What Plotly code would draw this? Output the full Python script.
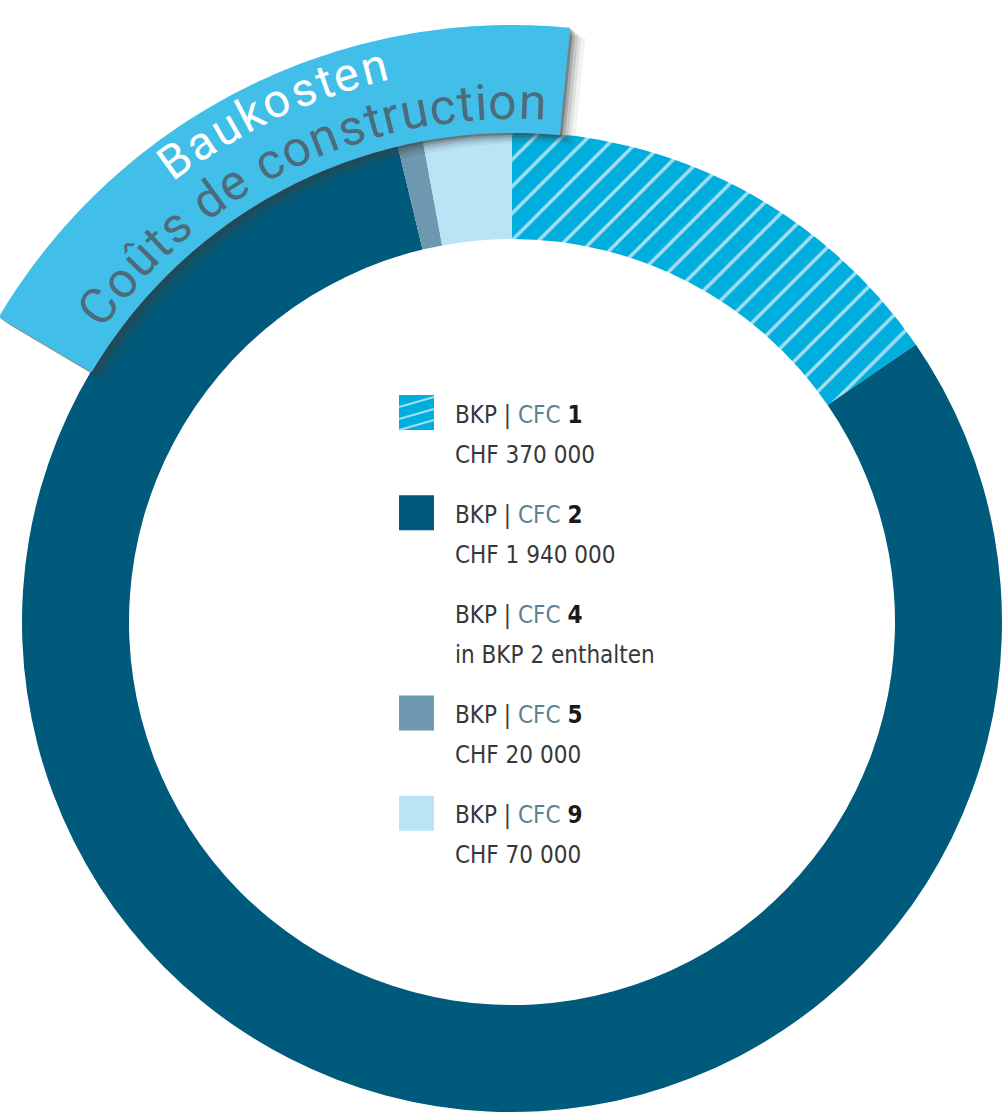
import numpy as np
import plotly.graph_objects as go

W, H = 1006, 1115

# ---------------- data ----------------
codes = ["1", "2", "4", "5", "9"]
values = [370000, 1940000, None, 20000, 70000]
notes = [None, None, "in BKP 2 enthalten", None, None]
slice_colors = ["#00AEDD", "#005A7B", None, "#6E97B0", "#BAE3F6"]
hatches = ["/", "", "", "", ""]
title_de = "Baukosten"
title_fr = "Coûts de construction"

# ---------------- geometry / style ----------------
CX, CY, R_OUT, R_IN = 512, 622, 490, 383
BANNER_COLOR = "#41BFE8"
HATCH_COLOR = "#A6DDF2"
TXT_DARK = "#383838"
TXT_CFC = "#5B8294"


def px(x, y):
    return x / W, 1 - y / H


idx = [i for i, v in enumerate(values) if v]
fig = go.Figure(go.Pie(
    labels=[f"BKP | CFC {codes[i]}" for i in idx],
    values=[values[i] for i in idx],
    sort=False, direction="clockwise", rotation=0,
    hole=R_IN / R_OUT,
    textinfo="none", hoverinfo="label+value", showlegend=False,
    marker=dict(
        colors=[slice_colors[i] for i in idx],
        line=dict(width=0),
        pattern=dict(shape=[hatches[i] for i in idx], fgcolor=HATCH_COLOR,
                     fillmode="overlay", fgopacity=1, size=19, solidity=0.18),
    ),
    domain=dict(x=[(CX - R_OUT) / W, (CX + R_OUT) / W],
                y=[1 - (CY + R_OUT) / H, 1 - (CY - R_OUT) / H]),
))

shapes = []


def sector_path(r0, r1, a0, a1, dx=0, dy=0, n=90):
    t = np.radians(np.linspace(a0, a1, n))
    pts = [(CX + dx + r1 * np.sin(a), CY + dy - r1 * np.cos(a)) for a in t]
    pts += [(CX + dx + r0 * np.sin(a), CY + dy - r0 * np.cos(a)) for a in t[::-1]]
    s = ""
    for k, (x, y) in enumerate(pts):
        fx, fy = px(x, y)
        s += ("M" if k == 0 else "L") + f"{fx:.5f},{fy:.5f} "
    return s + "Z"


B_R0, B_R1, B_A0, B_A1 = 489, 597, -59.3, 5.6
# soft drop shadow
for (dx, dy, op) in [(15, 10, 0.07), (11, 8, 0.10), (8, 6, 0.15), (5, 4, 0.22), (2.5, 2, 0.4)]:
    shapes.append(dict(type="path", path=sector_path(B_R0, B_R1, B_A0, B_A1, dx, dy),
                       xref="paper", yref="paper", fillcolor="#3a4046", opacity=op,
                       line=dict(width=0), layer="above"))
shapes.append(dict(type="path", path=sector_path(B_R0, B_R1, B_A0, B_A1),
                   xref="paper", yref="paper", fillcolor=BANNER_COLOR,
                   line=dict(width=0), layer="above"))

annotations = []

# curved banner text (one annotation per character)
WID = {"B": .62, "a": .54, "u": .55, "k": .51, "o": .57, "s": .52, "t": .33, "e": .53,
       "n": .55, "C": .65, "û": .55, " ": .25, "d": .56, "c": .52, "r": .34, "i": .24}


def arc_text(text, fs, color, r, t0, t1):
    w = np.array([WID.get(ch, .5) for ch in text])
    centers = np.cumsum(w) - w / 2
    frac = (centers - centers[0]) / (centers[-1] - centers[0])
    for ch, th in zip(text, t0 + frac * (t1 - t0)):
        if ch == " ":
            continue
        x = CX + r * np.sin(np.radians(th))
        y = CY - r * np.cos(np.radians(th))
        fx, fy = px(x, y)
        annotations.append(dict(x=fx, y=fy, xref="paper", yref="paper", text=ch,
                                showarrow=False, textangle=th, xanchor="center",
                                yanchor="middle",
                                font=dict(family="Roboto", size=fs, color=color)))


arc_text(title_de, 47, "#ffffff", 572, -36.1, -14.0)
arc_text(title_fr, 50, "#4D6B7A", 520, -52.6, 2.3)

# legend (built from data arrays)
LEG_TOP, LEG_STEP, SW_X0, SW = 395, 100.2, 399, 35
TX = 453
FONT = "DejaVu Sans Condensed, Roboto, sans-serif"
for i, code in enumerate(codes):
    top = LEG_TOP + i * LEG_STEP
    if slice_colors[i]:
        x0, y1 = px(SW_X0, top)
        x1, y0 = px(SW_X0 + SW, top + SW)
        shapes.append(dict(type="rect", xref="paper", yref="paper", x0=x0, x1=x1,
                           y0=y0, y1=y1, fillcolor=slice_colors[i], line=dict(width=0),
                           layer="above"))
        if hatches[i]:
            for off in (12, 24, 35):
                ax, ay = px(SW_X0, top + off)
                bx, by = px(SW_X0 + SW, top + off - 10)
                shapes.append(dict(type="line", xref="paper", yref="paper", x0=ax, y0=ay,
                                   x1=bx, y1=by, line=dict(color=HATCH_COLOR, width=2),
                                   layer="above"))
    line1 = (f"BKP | <span style='color:{TXT_CFC}'>CFC</span> "
             f"<b><span style='color:#1a1a1a'>{code}</span></b>")
    line2 = notes[i] if notes[i] else "CHF " + f"{values[i]:,}".replace(",", " ")
    for txt, yc in ((line1, top + 19.5), (line2, top + 59.5)):
        fx, fy = px(TX, yc)
        annotations.append(dict(x=fx, y=fy, xref="paper", yref="paper", text=txt,
                                showarrow=False, xanchor="left", yanchor="middle",
                                font=dict(family=FONT, size=24, color=TXT_DARK)))

fig.update_layout(width=W, height=H, margin=dict(l=0, r=0, t=0, b=0),
                  paper_bgcolor="white", plot_bgcolor="white",
                  shapes=shapes, annotations=annotations)
fig.write_html("out.html", config={"displayModeBar": False},
               post_script="document.body.style.margin='0';document.body.style.overflow='hidden';")
